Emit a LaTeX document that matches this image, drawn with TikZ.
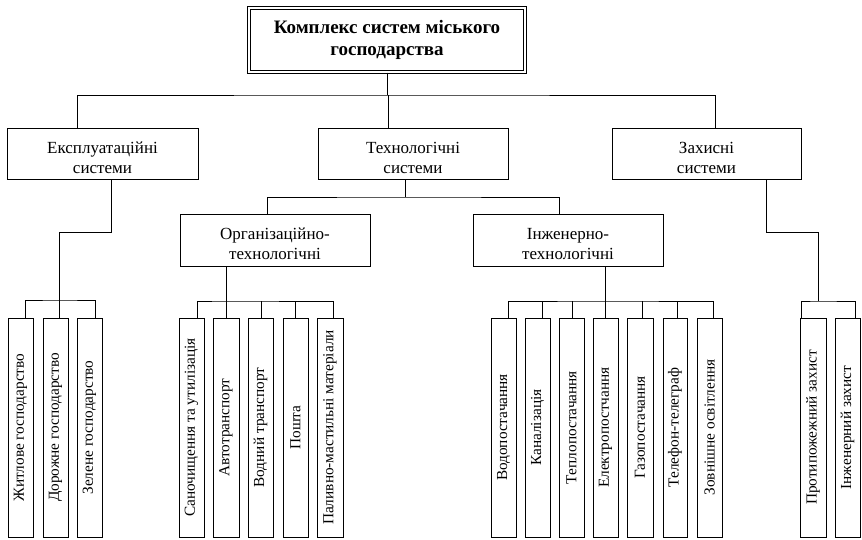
\documentclass[tikz,border=0pt]{standalone}
\usepackage{fontspec}
\setmainfont{Liberation Serif}
\usepackage{graphicx}
\newcommand\myLift{\rule{0pt}{20pt}}
\begin{document}
\begin{tikzpicture}[x=1pt,y=-1pt,
  every path/.style={line width=1pt},
  topbox/.style={draw, double, double distance=2.6pt, line width=1pt, minimum width=276pt, minimum height=64pt, inner sep=0pt, align=center, font=\fontsize{19}{22}\selectfont\bfseries},
  lvlbox/.style={draw, line width=1pt, minimum width=190pt, minimum height=51pt, inner sep=0pt, align=center, font=\fontsize{17}{20}\selectfont},
  leafbox/.style={draw, line width=1pt, minimum width=25pt, minimum height=219pt, inner sep=0pt, font=\fontsize{15.3}{18}\selectfont}]
\useasboundingbox (0,0) rectangle (862,539);
% top
\node[topbox] (top) at (387,40) {Комплекс систем міського\\господарства};
% level 1
\node[lvlbox, minimum width=191pt] (ex) at (102.5,153.5) {\myLift Експлуатаційні\\системи};
\node[lvlbox] (tech) at (413,153.5) {\myLift Технологічні\\системи};
\node[lvlbox, minimum width=189pt] (zah) at (706.5,153.5) {\myLift Захисні\\системи};
% level 2
\node[lvlbox, minimum height=52pt] (org) at (275,240) {\myLift Організаційно-\\технологічні};
\node[lvlbox, minimum height=52pt] (inz) at (568,240) {\myLift Інженерно-\\технологічні};
% leaves
\node[leafbox] (e1) at (20.5,427.5) {\rotatebox{90}{Житлове господарство}};
\node[leafbox] (e2) at (55.5,427.5) {\rotatebox{90}{Дорожне господарство}};
\node[leafbox] (e3) at (89.5,427.5) {\rotatebox{90}{Зелене господарство}};
\node[leafbox] (o1) at (191.5,427.5) {\rotatebox{90}{Саночищення та утилізація}};
\node[leafbox, minimum width=26pt] (o2) at (226,427.5) {\rotatebox{90}{Автотранспорт}};
\node[leafbox] (o3) at (260.5,427.5) {\rotatebox{90}{Водний транспорт}};
\node[leafbox] (o4) at (295.5,427.5) {\rotatebox{90}{Пошта}};
\node[leafbox, minimum width=26pt] (o5) at (330,427.5) {\rotatebox{90}{Паливно-мастильні матеріали}};
\node[leafbox] (i1) at (503.5,427.5) {\rotatebox{90}{Водопостачання}};
\node[leafbox] (i2) at (537.5,427.5) {\rotatebox{90}{Каналізація}};
\node[leafbox] (i3) at (571.5,427.5) {\rotatebox{90}{Теплопостачання}};
\node[leafbox] (i4) at (605.5,427.5) {\rotatebox{90}{Електропостчання}};
\node[leafbox, minimum width=26pt] (i5) at (640,427.5) {\rotatebox{90}{Газопостачання}};
\node[leafbox, minimum width=24pt] (i6) at (675,427.5) {\rotatebox{90}{Телефон-телеграф}};
\node[leafbox] (i7) at (709.5,427.5) {\rotatebox{90}{Зовнішне освітлення}};
\node[leafbox, minimum width=26pt] (z1) at (813,427.5) {\rotatebox{90}{Протипожежний захист}};
\node[leafbox] (z2) at (847.5,427.5) {\rotatebox{90}{Інженерний захист}};
% connectors: top
\coordinate (busT) at (387,95);
\draw (top.south) -- (busT);
\draw ([xshift=-25.5pt]ex.north) |- (busT) -| ([xshift=8.5pt]zah.north);
\draw ([xshift=-25pt]tech.north) -- ([xshift=-25pt]tech.north |- busT);
% ex branch
\coordinate (exk) at (59.5,232);
\coordinate (exb) at (59.5,300);
\draw ([xshift=8.5pt]ex.south) |- (exk) -- ([xshift=4pt]e2.north);
\draw ([xshift=4.5pt]e1.north) |- (exb) -| ([xshift=5.5pt]e3.north);
% tech branch
\coordinate (techb) at (405,197);
\draw ([xshift=-8pt]tech.south) -- (techb);
\draw ([xshift=-8pt]org.north) |- (techb) -| ([xshift=-9pt]inz.north);
% org branch
\coordinate (orgb) at (226,301);
\draw (org.south -| o2.north) -- (o2.north);
\draw ([xshift=5.5pt]o1.north) |- (orgb) -| ([xshift=3pt]o5.north);
\draw ([xshift=0.5pt]o3.north) -- ([xshift=0.5pt]o3.north |- orgb);
\draw ([xshift=-0.5pt]o4.north) -- ([xshift=-0.5pt]o4.north |- orgb);
% inz branch
\coordinate (inzb) at (605.5,301);
\draw (inz.south -| i4.north) -- (i4.north);
\draw ([xshift=4.5pt]i1.north) |- (inzb) -| ([xshift=3.5pt]i7.north);
\draw ([xshift=4.5pt]i2.north) -- ([xshift=4.5pt]i2.north |- inzb);
\draw ([xshift=0.5pt]i3.north) -- ([xshift=0.5pt]i3.north |- inzb);
\draw ([xshift=2pt]i5.north) -- ([xshift=2pt]i5.north |- inzb);
\draw ([xshift=2pt]i6.north) -- ([xshift=2pt]i6.north |- inzb);
% zah branch
\coordinate (zk) at (818.5,232);
\coordinate (zb) at (818.5,301);
\draw ([xshift=59.5pt]zah.south) |- (zk) -- (zb);
\draw ([xshift=-12pt]z1.north) |- (zb) -| ([xshift=7.5pt]z2.north);
\end{tikzpicture}
\end{document}
